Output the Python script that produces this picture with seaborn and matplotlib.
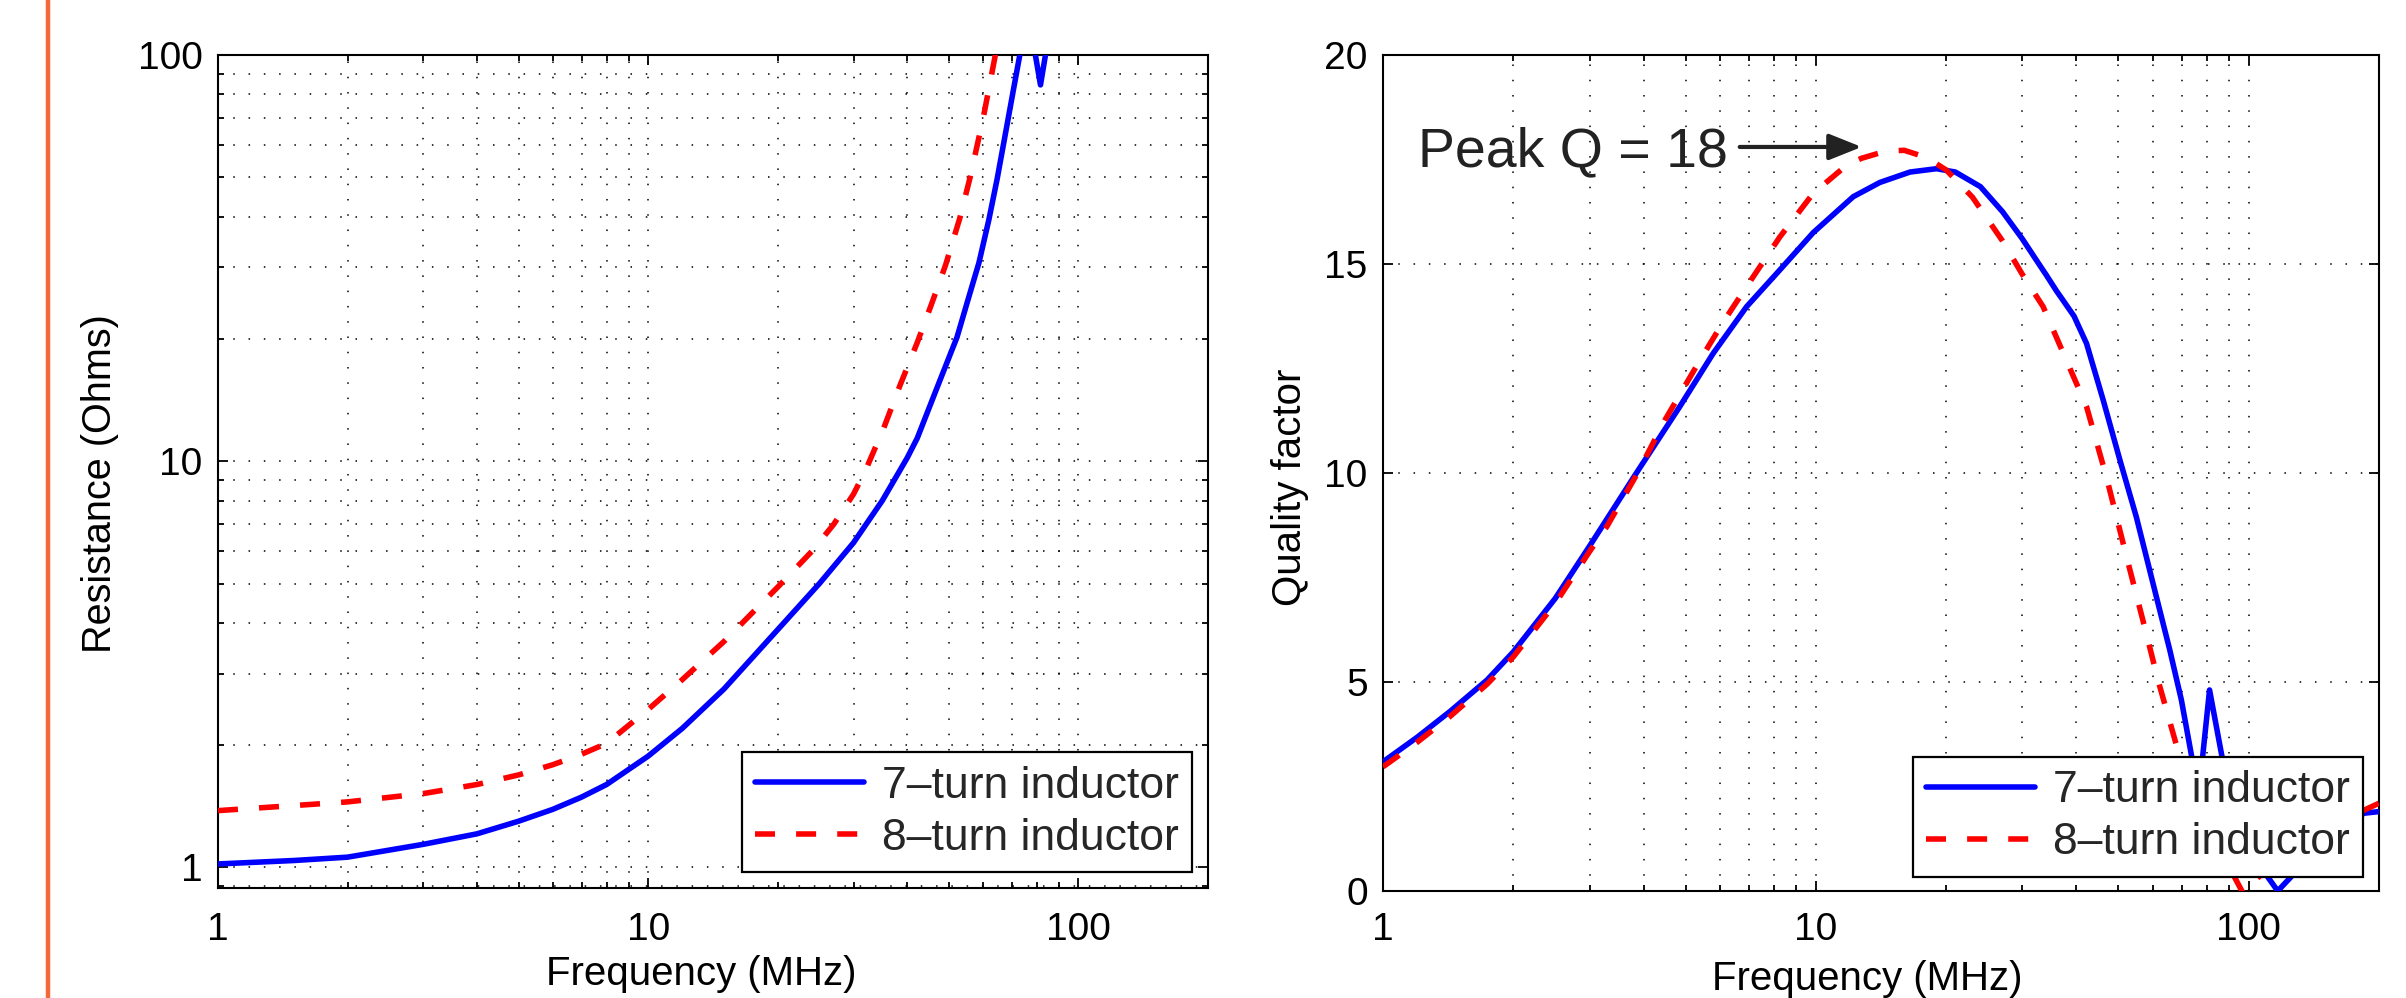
import matplotlib
matplotlib.use("Agg")
import matplotlib.pyplot as plt
import seaborn as sns
import pandas as pd
from matplotlib.lines import Line2D
from matplotlib.ticker import FixedLocator, FixedFormatter, NullFormatter

# ---------------- data ----------------
series_names = ["7\u2013turn inductor", "8\u2013turn inductor"]

# Resistance (Ohms) vs frequency (MHz)
freq_R7 = [1, 1.5, 2, 3, 4, 5, 6, 7, 8, 10, 12, 15, 20, 25, 30, 35, 40, 42.2, 47,
           52.2, 55.5, 58.7, 61.9, 64.7, 67.0, 70.7, 73.3, 76, 79.4, 81.6, 83.8, 87]
R7 = [1.02, 1.04, 1.06, 1.14, 1.21, 1.30, 1.39, 1.49, 1.60, 1.88, 2.2, 2.75, 3.85,
      5.0, 6.3, 8.0, 10.2, 11.4, 15.25, 20.2, 25.2, 30.8, 39.3, 49.5, 60.6, 82.8,
      102, 200, 100, 84.4, 100, 200]

freq_R8 = [1, 1.5, 2, 3, 4, 5, 6, 7, 8, 10, 12, 15, 20, 24, 27, 30, 32, 35.3, 38.5,
           42.2, 45.5, 49.1, 53, 56, 58, 60, 62, 64, 67]
R8 = [1.38, 1.42, 1.45, 1.52, 1.6, 1.69, 1.79, 1.9, 2.02, 2.45, 2.9, 3.6, 4.9,
      6.0, 7.0, 8.3, 9.5, 12.1, 15.4, 19.6, 24.3, 30.4, 39.7, 50, 59.2, 69.6,
      83.3, 99.3, 200]

# Quality factor vs frequency (MHz)
freq_Q7 = [1, 1.2, 1.43, 1.74, 2.0, 2.5, 3.0, 3.85, 4.85, 5.79, 6.92, 8.26, 9.86,
           12.2, 14.05, 16.5, 19, 21, 24, 27, 30, 33, 34, 36, 37.2, 39.5, 42.2,
           46.1, 50.4, 55, 60.1, 65.7, 69.9, 73.8, 76.5, 78.3, 81.2, 86.7, 92,
           100, 110.6, 116.7, 125.3, 140, 160, 184.5, 200]
Q7 = [3.09, 3.68, 4.30, 5.05, 5.72, 7.0, 8.25, 10.0, 11.59, 12.86, 13.98, 14.86,
      15.75, 16.61, 16.95, 17.2, 17.28, 17.2, 16.85, 16.25, 15.6, 14.95, 14.75,
      14.35, 14.14, 13.75, 13.10, 11.75, 10.31, 8.95, 7.36, 5.77, 4.57, 3.23,
      2.3, 3.23, 4.81, 3.23, 1.9, 1.0, 0.34, 0.0, 0.34, 0.9, 1.4, 1.86, 1.9]

freq_Q8 = [1, 1.2, 1.43, 1.74, 2.0, 2.5, 3.0, 3.29, 3.85, 4.5, 5.4, 6.1, 6.92,
           8.26, 9.86, 11.8, 12.76, 14.5, 16, 18, 20, 23, 27, 30, 33.5, 37.9,
           42.2, 46.9, 52.2, 58, 61.7, 69.2, 75, 85, 92, 97, 105.6, 120, 150, 200]
Q8 = [2.97, 3.56, 4.18, 4.95, 5.6, 6.88, 8.12, 8.72, 9.95, 11.3, 12.70, 13.6, 14.46,
      15.65, 16.69, 17.37, 17.53, 17.7, 17.72, 17.55, 17.25, 16.6, 15.55, 14.75,
      13.98, 12.70, 11.59, 9.91, 8.0, 6.16, 5.05, 3.23, 2.2, 1.0, 0.4, -0.05,
      0.34, 0.8, 1.5, 2.1]

x_ticks = [1, 10, 100]
x_tick_labels = ["1", "10", "100"]
R_ticks = [1, 10, 100]
R_tick_labels = ["1", "10", "100"]
Q_ticks = [0, 5, 10, 15, 20]
Q_tick_labels = ["0", "5", "10", "15", "20"]
peak_text = "Peak Q = 18"

# ---------------- style ----------------
sns.set_theme(style="white")
plt.rcParams["font.family"] = ["Liberation Sans", "DejaVu Sans"]
plt.rcParams["axes.unicode_minus"] = False

BLUE = "#0000FF"
RED = "#FF0000"
LW = 4.0
DASH = (0, (3.6, 3.8))
GRID_LS = (0, (1, 9))

W, H = 2406, 998
fig = plt.figure(figsize=(W / 100, H / 100), dpi=100)
axL = fig.add_axes([218 / W, 1 - 888 / H, 990 / W, 833 / H])
axR = fig.add_axes([1383 / W, 1 - 891 / H, 996 / W, 836 / H])

dfR7 = pd.DataFrame({"f": freq_R7, "v": R7})
dfR8 = pd.DataFrame({"f": freq_R8, "v": R8})
dfQ7 = pd.DataFrame({"f": freq_Q7, "v": Q7})
dfQ8 = pd.DataFrame({"f": freq_Q8, "v": Q8})

for ax, d7, d8 in [(axL, dfR7, dfR8), (axR, dfQ7, dfQ8)]:
    sns.lineplot(data=d7, x="f", y="v", ax=ax, color=BLUE, linewidth=LW,
                 sort=False, estimator=None, label=series_names[0], zorder=3)
    sns.lineplot(data=d8, x="f", y="v", ax=ax, color=RED, linewidth=LW,
                 linestyle=DASH, sort=False, estimator=None,
                 label=series_names[1], zorder=3)

minor_x = [2, 3, 4, 5, 6, 7, 8, 9, 20, 30, 40, 50, 60, 70, 80, 90, 200]
minor_R = [0.9, 2, 3, 4, 5, 6, 7, 8, 9, 20, 30, 40, 50, 60, 70, 80, 90]

for ax in (axL, axR):
    ax.set_xscale("log")
    ax.set_xlim(1, 200)
    ax.xaxis.set_major_locator(FixedLocator(x_ticks))
    ax.xaxis.set_major_formatter(FixedFormatter(x_tick_labels))
    ax.xaxis.set_minor_locator(FixedLocator(minor_x))
    ax.xaxis.set_minor_formatter(NullFormatter())
    for s in ax.spines.values():
        s.set_color("black")
        s.set_linewidth(1.5)
        s.set_visible(True)
    ax.tick_params(which="both", direction="in", top=True, right=True,
                   bottom=True, left=True, colors="black", width=1.3)
    ax.tick_params(which="major", length=7.5, labelsize=28)
    ax.tick_params(which="minor", length=4.5)
    ax.tick_params(axis="y", which="major", pad=11)
    ax.grid(True, which="major", axis="x", color="black", linestyle=GRID_LS,
            linewidth=1.1)
    ax.grid(True, which="minor", axis="x", color="black", linestyle=GRID_LS,
            linewidth=1.1)
    ax.set_facecolor("white")

axL.tick_params(axis="x", which="major", pad=17)
axR.tick_params(axis="x", which="major", pad=15)

axL.set_yscale("log")
axL.set_ylim(0.89, 100)
axL.yaxis.set_major_locator(FixedLocator(R_ticks))
axL.yaxis.set_major_formatter(FixedFormatter(R_tick_labels))
axL.yaxis.set_minor_locator(FixedLocator(minor_R))
axL.yaxis.set_minor_formatter(NullFormatter())
axL.grid(True, which="both", axis="y", color="black", linestyle=GRID_LS,
         linewidth=1.1)

axR.set_ylim(0, 20)
axR.yaxis.set_major_locator(FixedLocator(Q_ticks))
axR.yaxis.set_major_formatter(FixedFormatter(Q_tick_labels))
axR.grid(True, which="major", axis="y", color="black", linestyle=GRID_LS,
         linewidth=1.1)

for ax in (axL, axR):
    ax.set_xlabel("Frequency (MHz)", fontsize=29, color="black")
axL.set_ylabel("Resistance (Ohms)", fontsize=28.5, color="black")
axR.set_ylabel("Quality factor", fontsize=29, color="black")
axL.xaxis.set_label_coords(0.488, -0.080)
axR.xaxis.set_label_coords(0.486, -0.083)
axL.yaxis.set_label_coords(-0.100, 0.485)
axR.yaxis.set_label_coords(-0.074, 0.483)

# legends
leg_kw = dict(loc="lower right", fontsize=32, frameon=True, fancybox=False,
              edgecolor="black", framealpha=1, borderpad=0.3,
              labelspacing=0.25, handlelength=2.45, handletextpad=0.4,
              borderaxespad=0)
for ax, anchor in [(axL, (0.9838, 0.0192)), (axR, (0.9839, 0.0171))]:
    h, l = ax.get_legend_handles_labels()
    lg = ax.legend(h, l, bbox_to_anchor=anchor, **leg_kw)
    lg.get_frame().set_linewidth(1.6)
    lg.set_zorder(5)

# annotation
TXT = "#222222"
axR.text(6.27, 17.34, peak_text, fontsize=40, color=TXT, ha="right",
         va="baseline")
axR.annotate("", xy=(12.76, 17.8), xytext=(6.67, 17.8),
             arrowprops=dict(arrowstyle="-|>,head_length=0.5,head_width=0.2",
                             color=TXT, lw=3, mutation_scale=40,
                             shrinkA=0, shrinkB=0))

# orange page-margin line
fig.add_artist(Line2D([48 / W, 48 / W], [0, 1], transform=fig.transFigure,
                      color="#F4683A", linewidth=3.2))

fig.savefig("out.png", dpi=100, facecolor="white")
